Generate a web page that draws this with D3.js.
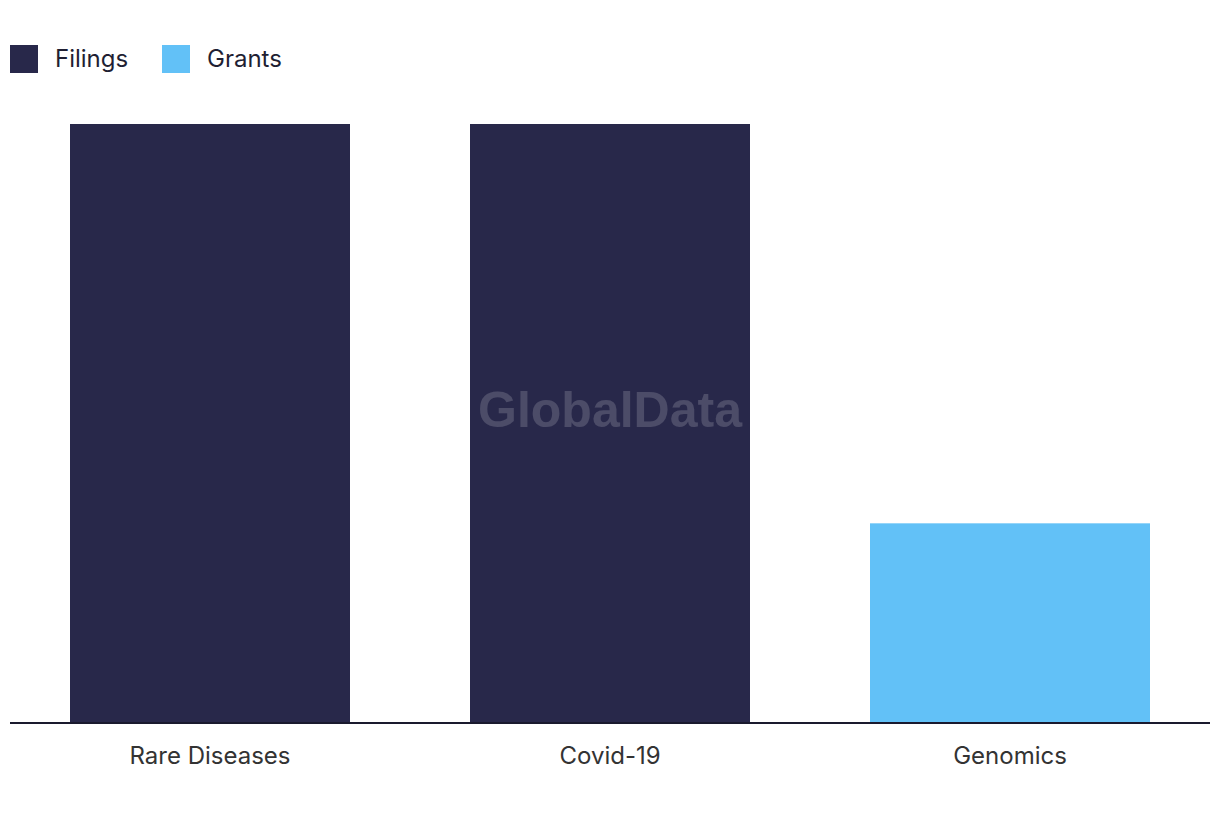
<!DOCTYPE html>
<html>
<head>
<meta charset="utf-8">
<script src="https://cdn.jsdelivr.net/npm/d3@7"></script>
<style>
  html, body { margin: 0; padding: 0; background: #fff; }
  svg { display: block; }
</style>
</head>
<body>
<div id="chart"></div>
<script>
const categories = ["Rare Diseases", "Covid-19", "Genomics"];
const values = [3, 3, 1];
const seriesOf = ["Filings", "Filings", "Grants"];
const seriesNames = ["Filings", "Grants"];
const seriesColors = ["#28284a", "#62c1f7"];

const W = 1220, H = 820;
const margin = { left: 10, right: 10, top: 124, bottom: 97 };

const svg = d3.select("#chart").append("svg").attr("width", W).attr("height", H);

const x = d3.scaleBand().domain(categories).range([margin.left, W - margin.right]).paddingInner(0.3).paddingOuter(0.15);
const y = d3.scaleLinear().domain([0, d3.max(values)]).range([H - margin.bottom, margin.top]);
const color = d3.scaleOrdinal().domain(seriesNames).range(seriesColors);

// bars
svg.append("g").selectAll("rect").data(categories).join("rect")
  .attr("x", d => x(d))
  .attr("y", (d, i) => y(values[i]))
  .attr("width", x.bandwidth())
  .attr("height", (d, i) => y(0) - y(values[i]))
  .attr("fill", (d, i) => color(seriesOf[i]));

// watermark
svg.append("text")
  .attr("x", 610).attr("y", 427)
  .attr("text-anchor", "middle")
  .attr("font-family", "Liberation Sans, Arial, sans-serif")
  .attr("font-weight", "bold")
  .attr("font-size", 50)
  .attr("fill", "#ffffff").attr("fill-opacity", 0.17)
  .text("GlobalData");

// x axis
const xAxis = svg.append("g")
  .attr("transform", `translate(0,${y(0)})`)
  .call(d3.axisBottom(x).tickSize(0).tickPadding(24));
xAxis.select(".domain").attr("stroke", "#1a1a2e").attr("stroke-width", 2).attr("d", `M${margin.left},0H${W - margin.right}`);
xAxis.selectAll("text")
  .attr("font-family", "Inter, Roboto, sans-serif")
  .attr("font-size", 24)
  .attr("fill", "#333333");

// legend
const legend = svg.append("g").attr("transform", "translate(10,45)");
const legendX = [0, 152];
const items = legend.selectAll("g").data(seriesNames).join("g")
  .attr("transform", (d, i) => `translate(${legendX[i]},0)`);
items.append("rect").attr("width", 28).attr("height", 28).attr("fill", d => color(d));
items.append("text").attr("x", 45).attr("y", 22)
  .attr("font-family", "Inter, Roboto, sans-serif")
  .attr("font-size", 24)
  .attr("fill", "#1f1f33")
  .text(d => d);
</script>
</body>
</html>
